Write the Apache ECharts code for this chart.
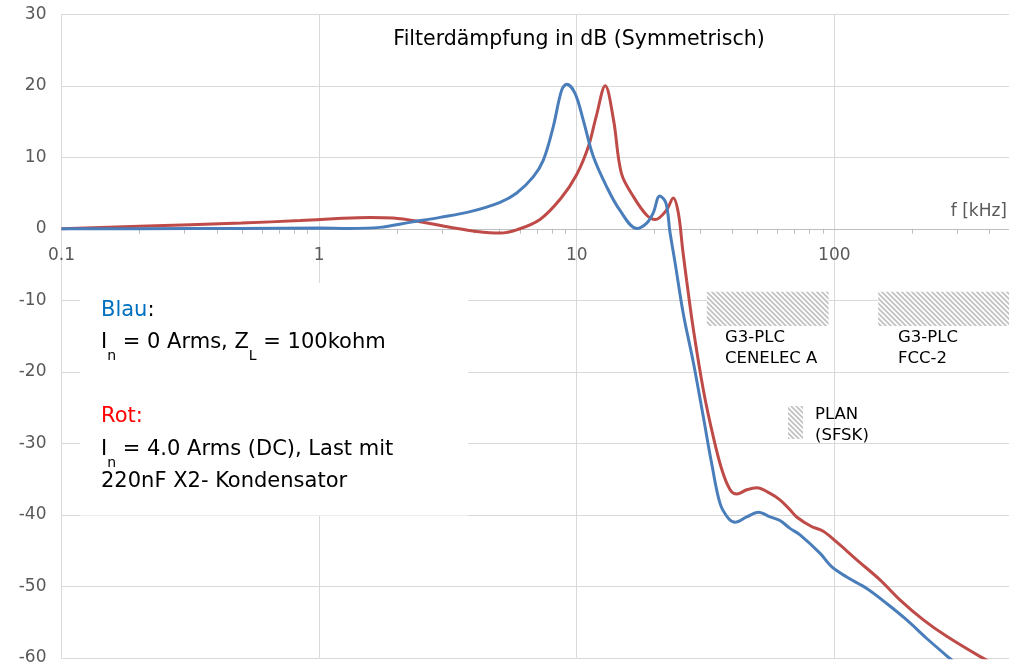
<!DOCTYPE html>
<html><head><meta charset="utf-8">
<script src="https://cdn.jsdelivr.net/npm/echarts@6/dist/echarts.min.js"></script>
<style>html,body{margin:0;padding:0;background:#fff}#c{width:1009px;height:665px}</style>
</head><body><div id="c"></div>
<script>
// Frequencies in kHz, attenuation in dB
const blueFreq = [0.1, 0.2, 0.5, 1.0, 1.3, 1.72, 2.25, 2.95, 3.86, 5.04, 5.85, 6.79, 7.42, 8.11, 8.74, 9.15, 9.85, 10.6, 11.6, 13.06, 14.7, 17.1, 18.7, 19.8, 21.0, 22.2, 23.0, 24.1, 25.9, 28.4, 31.0, 33.4, 36.0, 38.8, 41.2, 45.7, 50.7, 56.3, 61.5, 67.3, 73.6, 88.1, 97.8, 111.7, 133.6, 159.7, 191, 228.5, 281, 350];
const blueDb   = [0, 0.02, 0.05, 0.1, 0.05, 0.2, 0.9, 1.6, 2.4, 3.7, 5.0, 7.3, 9.6, 14.3, 19.4, 20.2, 18.95, 15.2, 10.1, 5.9, 2.6, 0.05, 0.8, 2.2, 4.6, 3.6, -0.4, -4.8, -11.8, -18.8, -26.3, -32.8, -38.4, -40.5, -41.05, -40.3, -39.65, -40.3, -40.8, -41.9, -42.8, -45.4, -47.3, -48.7, -50.3, -52.4, -54.7, -57.3, -60.1, -63];
const redFreq  = [0.1, 0.2, 0.5, 0.843, 1.136, 1.576, 1.94, 2.46, 3.22, 4.09, 5.04, 5.85, 7.2, 8.7, 10.0, 11.1, 11.9, 12.9, 13.9, 14.9, 16.6, 18.7, 20.2, 22.3, 23.7, 24.8, 25.8, 26.7, 28.4, 31.0, 33.9, 36.6, 39.4, 41.8, 45.7, 50.0, 56.3, 61.5, 67.3, 71.4, 81.2, 90.6, 102, 122.2, 150.4, 179.7, 221.6, 273, 367, 450, 500];
const redDb    = [0, 0.35, 0.8, 1.16, 1.4, 1.58, 1.5, 1.0, 0.23, -0.37, -0.6, -0.15, 1.3, 4.3, 7.6, 11.5, 15.7, 20.0, 15.2, 7.8, 4.5, 1.9, 1.3, 2.6, 4.3, 2.2, -3, -7.2, -14.2, -22.5, -29.1, -33.7, -36.5, -37.1, -36.5, -36.2, -37.0, -37.9, -39.3, -40.3, -41.6, -42.3, -43.8, -46.3, -49.1, -51.9, -54.7, -57.0, -59.8, -61.5, -62.5];
const minorTickFreq = [0.2,0.3,0.4,0.5,0.6,0.7,0.8,0.9, 2,3,4,5,6,7,8,9, 20,30,40,50,60,70,80,90, 200,300,400];
const xTickLabels = ['0.1', '1', '10', '100'];
const bandNames = ['G3-PLC\nCENELEC A', 'G3-PLC\nFCC-2', 'PLAN\n(SFSK)'];
const bandFreqFrom = [32, 148, 66.1];
const bandFreqTo   = [95, 500, 75.6];
const bandDbTop    = [-8.8, -8.8, -24.8];
const bandDbBottom = [-13.6, -13.6, -29.4];

const FONT = 'DejaVu Sans';
const W = 1009, H = 665, GL = 61.5, GR = -5.4, GT = 14.3, GB = 7.2;
const yMin = -60, yMax = 30;
// offset that moves the x axis from the bottom edge up to the 0 dB line
const xAxisOffset = -(H - GT - GB) * (0 - yMin) / (yMax - yMin);

function hatch() {
  const c = document.createElement('canvas'); c.width = 5; c.height = 5;
  const g = c.getContext('2d');
  g.fillStyle = '#fff'; g.fillRect(0,0,5,5);
  g.strokeStyle = '#C2C2C2'; g.lineWidth = 1.8;
  g.beginPath();
  g.moveTo(-1,-1); g.lineTo(6,6);
  g.moveTo(-1,4); g.lineTo(1,6);
  g.moveTo(4,-1); g.lineTo(6,1);
  g.stroke();
  return c;
}
const pattern = { image: hatch(), repeat: 'repeat' };

const blueData = blueFreq.map((f,i)=>[f, blueDb[i]]);
const redData = redFreq.map((f,i)=>[f, redDb[i]]);
const bandData = bandFreqFrom.map((f,i)=>[f, bandFreqTo[i], bandDbTop[i], bandDbBottom[i]]);

const chart = echarts.init(document.getElementById('c'));
const sub = {fontSize: 14, fontFamily: FONT, fill: '#000', padding: [27,0,0,0], lineHeight: 14};
const main = {fontSize: 21, fontFamily: FONT, fill: '#000', lineHeight: 26};
function fmtX(v) {
  const n = Number(v);
  for (const t of xTickLabels) { if (Math.abs(n - Number(t)) < 1e-6 * Number(t)) return t; }
  return '';
}
chart.setOption({
  animation: false,
  backgroundColor: '#fff',
  grid: {left: GL, right: GR, top: GT, bottom: GB, containLabel: false, outerBoundsMode: 'none'},
  xAxis: {
    type: 'log', logBase: 10, min: 0.1, max: 500, position: 'bottom', offset: xAxisOffset,
    axisLine: {show: true, onZero: false, lineStyle: {color: '#BFBFBF', width: 1}},
    axisTick: {show: false},
    splitLine: {show: true, lineStyle: {color: '#D9D9D9', width: 1}},
    axisLabel: {show: true, margin: 18, color: '#595959', fontSize: 17, fontFamily: FONT, formatter: fmtX}
  },
  yAxis: {
    type: 'value', min: yMin, max: yMax, interval: 10,
    axisLine: {show: true, lineStyle: {color: '#D9D9D9', width: 1}},
    axisTick: {show: false},
    splitLine: {show: true, lineStyle: {color: '#D9D9D9', width: 1}},
    axisLabel: {margin: 15, color: '#595959', fontSize: 17, fontFamily: FONT}
  },
  graphic: [
    {type: 'rect', z: 1, shape: {x: 80, y: 283, width: 388, height: 232.5}, style: {fill: '#fff'}},
    {type: 'text', z: 2, x: 579, y: 40, style: {text: 'Filterdämpfung in dB (Symmetrisch)', fontSize: 20.5, fontFamily: FONT, fill: '#000', align: 'center', verticalAlign: 'middle'}},
    {type: 'text', z: 2, x: 1007, y: 212, style: {text: 'f [kHz]', fontSize: 17, fontFamily: FONT, fill: '#595959', align: 'right', verticalAlign: 'middle'}},
    {type: 'text', z: 2, x: 101, y: 311, style: {text: '{b|Blau}{m|:}', align: 'left', verticalAlign: 'middle', rich: {m: main, b: Object.assign({}, main, {fill: '#0070C0'})}}},
    {type: 'text', z: 2, x: 101, y: 343, style: {text: '{m|I}{s|n}{m| = 0 Arms, Z}{s|L}{m| = 100kohm}', align: 'left', verticalAlign: 'middle', rich: {m: main, s: sub}}},
    {type: 'text', z: 2, x: 101, y: 417, style: {text: '{r|Rot:}', align: 'left', verticalAlign: 'middle', rich: {r: Object.assign({}, main, {fill: '#FF0000'})}}},
    {type: 'text', z: 2, x: 101, y: 450, style: {text: '{m|I}{s|n}{m| = 4.0 Arms (DC), Last mit}', align: 'left', verticalAlign: 'middle', rich: {m: main, s: sub}}},
    {type: 'text', z: 2, x: 101, y: 482, style: {text: '{m|220nF X2- Kondensator}', align: 'left', verticalAlign: 'middle', rich: {m: main}}},
    {type: 'text', z: 2, x: 725, y: 327.5, style: {text: bandNames[0], fontSize: 16.5, lineHeight: 21, fontFamily: FONT, fill: '#000', align: 'left', verticalAlign: 'top'}},
    {type: 'text', z: 2, x: 898, y: 327.5, style: {text: bandNames[1], fontSize: 16.5, lineHeight: 21, fontFamily: FONT, fill: '#000', align: 'left', verticalAlign: 'top'}},
    {type: 'text', z: 2, x: 815, y: 404.5, style: {text: bandNames[2], fontSize: 16.5, lineHeight: 20.5, fontFamily: FONT, fill: '#000', align: 'left', verticalAlign: 'top'}}
  ],
  series: [
    {
      type: 'custom', name: 'bands', z: 1, data: bandData,
      encode: {x: [0,1], y: [2,3]},
      renderItem: (params, api) => {
        const p0 = api.coord([api.value(0), api.value(2)]);
        const p1 = api.coord([api.value(1), api.value(3)]);
        return {type: 'rect', shape: {x: p0[0], y: p0[1], width: p1[0]-p0[0], height: p1[1]-p0[1]}, style: {fill: pattern}};
      }
    },
    {
      type: 'custom', name: 'minorTicks', z: 3, data: minorTickFreq.map(f => [f, 0]),
      encode: {x: 0, y: 1}, clip: false,
      renderItem: (params, api) => {
        const p = api.coord([api.value(0), 0]);
        return {type: 'line', shape: {x1: Math.round(p[0])+0.5, y1: p[1], x2: Math.round(p[0])+0.5, y2: p[1]+5}, style: {stroke: '#BFBFBF', lineWidth: 1}};
      }
    },
    {type: 'line', name: 'Blau', data: blueData, showSymbol: false, symbol: 'none', smooth: 0.35, z: 5,
     lineStyle: {color: '#4A7EBB', width: 3}},
    {type: 'line', name: 'Rot', data: redData, showSymbol: false, symbol: 'none', smooth: 0.35, z: 4,
     lineStyle: {color: '#BE4B48', width: 3}}
  ]
});
</script></body></html>
